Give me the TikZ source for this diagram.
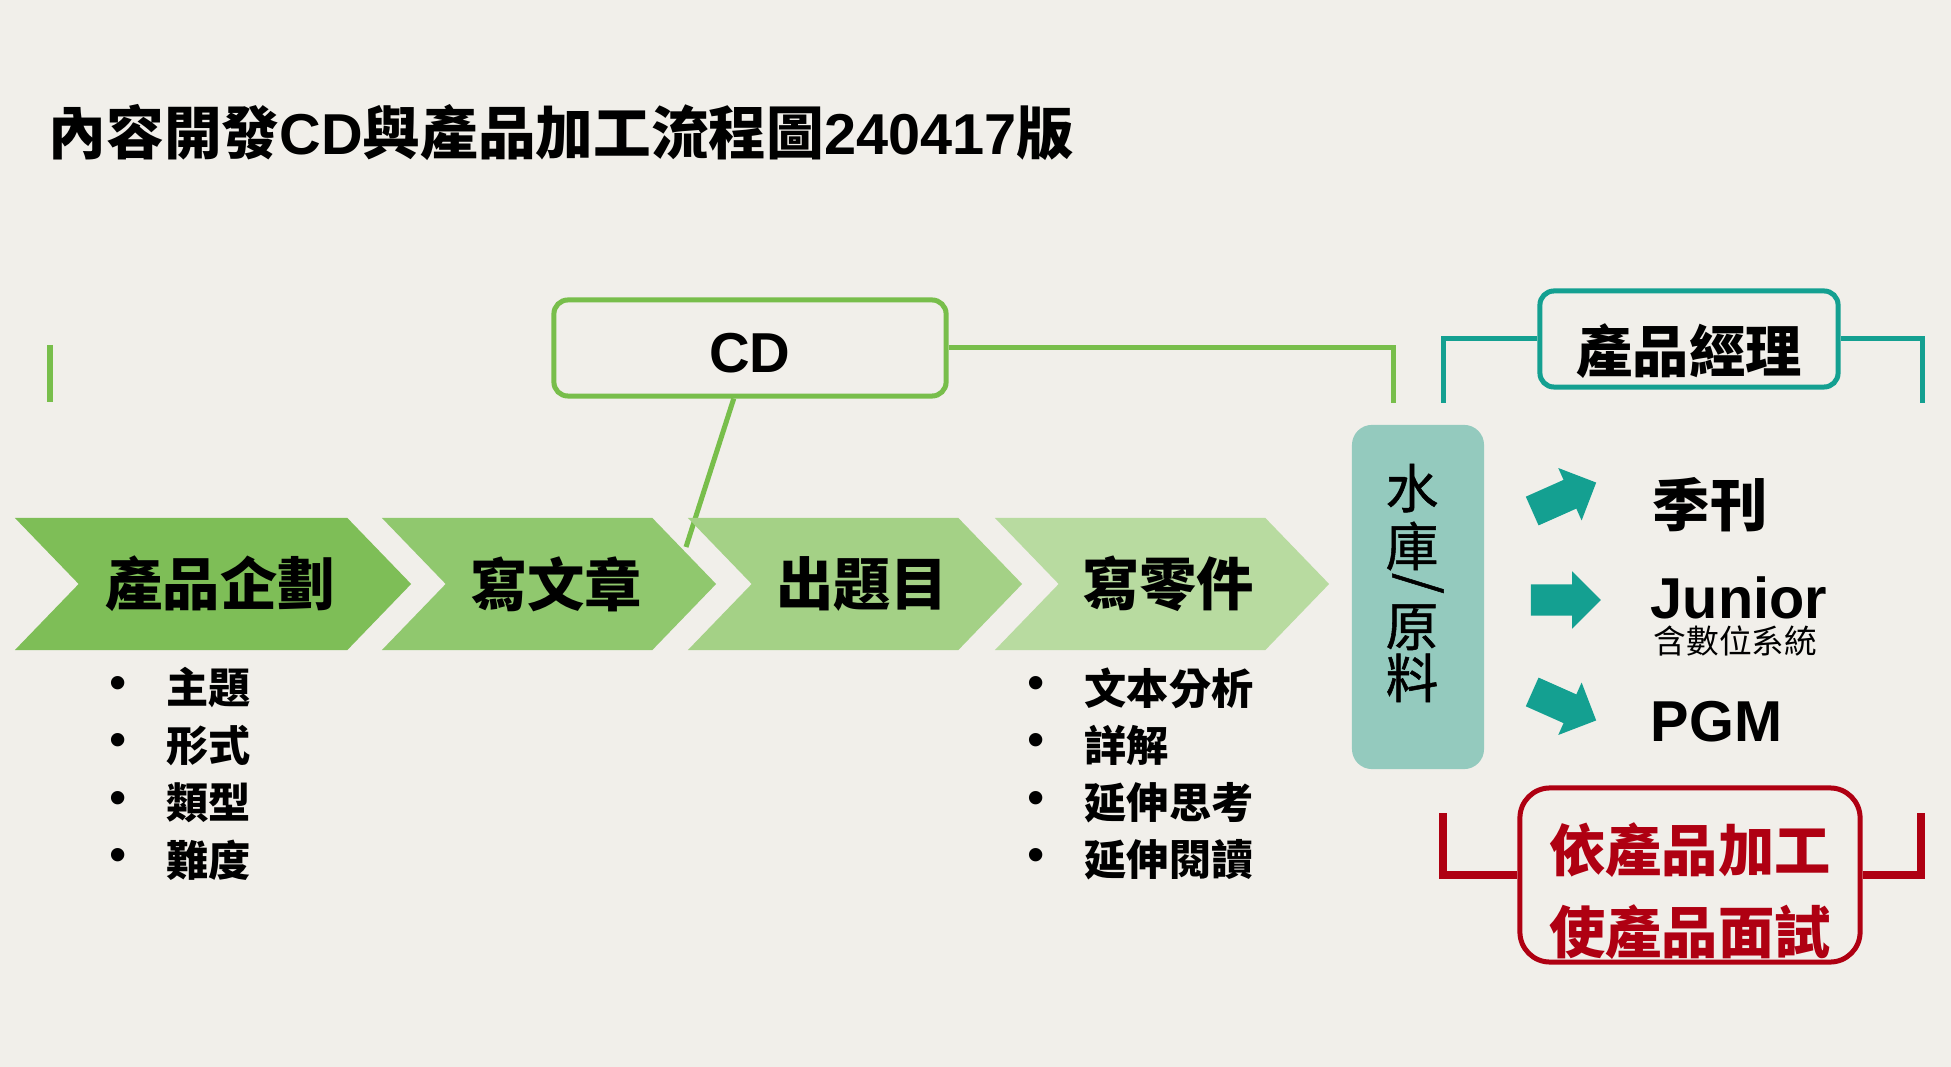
\documentclass[tikz,border=0pt]{standalone}
\usepackage{fontspec}
\setmainfont{Liberation Sans}
\newfontfamily\cjk{Noto Sans CJK TC}
\newfontfamily\cjkmid{Noto Sans CJK TC}[FakeBold=1]
\usetikzlibrary{positioning,shapes.symbols,shapes.arrows}

\definecolor{paper}{HTML}{F1EFEA}
\definecolor{cdgreen}{HTML}{78BE4B}
\definecolor{chevA}{HTML}{7EBE57}
\definecolor{chevB}{HTML}{90C86E}
\definecolor{chevC}{HTML}{A4D186}
\definecolor{chevD}{HTML}{B8DBA0}
\definecolor{pmteal}{HTML}{14A091}
\definecolor{pooltone}{HTML}{94CABE}
\definecolor{alertred}{HTML}{AF0012}

\tikzset{
  chev/.style={signal, signal from=west, signal to=east, signal pointer angle=92,
    minimum height=1.32cm, inner sep=0pt, fill=#1,
    font=\cjk\bfseries\fontsize{16.3}{19}\selectfont},
  tagbox/.style={draw=#1, line width=0.05cm, rounded corners=0.14cm,
    minimum width=2.98cm, minimum height=0.96cm, inner sep=0pt, text depth=0pt},
  dot/.style={font=\fontsize{14}{16}\selectfont, inner sep=0pt},
  item/.style={anchor=west, inner sep=0pt, font=\cjk\bfseries\fontsize{12}{14}\selectfont},
  fatarrow/.style={single arrow, fill=pmteal, minimum height=0.70cm, minimum width=0pt,
    single arrow head extend=0.13cm, inner sep=0pt},
  outlet/.style={anchor=west, inner sep=0pt, font=\bfseries\fontsize{16.4}{19}\selectfont}
}
\newcommand\shaft{\rule{0pt}{0.30cm}}
\newcommand\vslash{\raisebox{0pt}[0pt][0pt]{\rotatebox{-90}{/}}}

\begin{document}
\begin{tikzpicture}[x=0.01cm, y=-0.01cm]
  \fill[paper] (0,0) rectangle (1951,1067);

  \node[anchor=west, inner sep=0pt, font=\bfseries\fontsize{16.4}{19}\selectfont] (title) at (48,133)
    {{\cjk 內容開發}CD{\cjk 與產品加工流程圖}240417{\cjk 版}};

  % CD
  \coordinate (tickA) at (50,345);
  \coordinate (tickB) at (50,402);
  \draw[cdgreen, line width=0.06cm] (tickA) -- (tickB);
  \node[tagbox=cdgreen, minimum width=3.92cm, text height=0.49cm, font=\bfseries\fontsize{16}{19}\selectfont] (cd) at (750,348) {CD};
  \coordinate (cdend) at (1393,403);
  \coordinate (cdfoot) at (686,547);
  \draw[cdgreen, line width=0.05cm] (cd.east) -| (cdend);
  \draw[cdgreen, line width=0.05cm] (cd) -- (cdfoot);

  % steps
  \node[chev=chevA, minimum width=3.96cm] (plan) at (213,584) {\hspace{0.14cm}產品企劃};
  \node[chev=chevB, minimum width=3.34cm] (write) at (549,584) {\hspace{0.14cm}寫文章};
  \node[chev=chevC, minimum width=3.34cm] (quiz) at (855,584) {\hspace{0.14cm}出題目};
  \node[chev=chevD, minimum width=3.34cm] (parts) at (1162,584) {\hspace{0.12cm}寫零件};

  \foreach \t [count=\i] in {主題,形式,類型,難度} {
    \node[dot] (pa\i) at (118,{688+57.3*(\i-1)}) {•};
    \node[item] (ta\i) at (166,{688+57.3*(\i-1)}) {\t};
  }
  \foreach \t [count=\i] in {文本分析,詳解,延伸思考,延伸閱讀} {
    \node[dot] (pb\i) at (1036,{688+57.3*(\i-1)}) {•};
    \node[item] (tb\i) at (1084,{688+57.3*(\i-1)}) {\t};
  }

  % pool
  \node[fill=pooltone, rounded corners=0.2cm, minimum width=1.32cm, minimum height=3.44cm] (pool) at (1418,597) {};
  \node[align=center, inner sep=0pt, font=\cjkmid\fontsize{15}{16}\selectfont] (poolname) at (1412,583)
    {水\\[0.5pt]庫\\[-14pt]\hspace{0.12cm}\vslash\\[4.7pt]原\\[-1.2pt]料};

  % product manager
  \node[tagbox=pmteal, text height=0.66cm, font=\cjk\bfseries\fontsize{16}{19}\selectfont] (pm) at (1689,339) {產品經理};
  \coordinate (pmL) at (1443,403);
  \coordinate (pmR) at (1922,403);
  \draw[pmteal, line width=0.05cm] (pmL) |- (pm.west);
  \draw[pmteal, line width=0.05cm] (pm.east) -| (pmR);

  \node[fatarrow, rotate=24] (arr1) at (1557,500) {\shaft};
  \node[fatarrow] (arr2) at (1558,600) {\shaft};
  \node[fatarrow, rotate=-24] (arr3) at (1557,703) {\shaft};

  \node[outlet, font=\cjk\bfseries\fontsize{16.3}{19}\selectfont] (season) at (1652,505) {季刊};
  \node[outlet] (junior) at (1650,598) {Junior};
  \node[anchor=west, inner sep=0pt, font=\cjk\fontsize{9.3}{11}\selectfont] (digital) at (1653,641) {含數位系統};
  \node[outlet] (pgm) at (1650,722) {PGM};

  % red note
  \node[draw=alertred, line width=0.05cm, rounded corners=0.3cm, minimum width=3.40cm, minimum height=1.74cm] (note) at (1690,875) {};
  \node[align=center, text=alertred, inner sep=0pt, font=\cjk\bfseries\fontsize{16}{23.3}\selectfont] (notetext) at (1690,891)
    {依產品加工\\使產品面試};
  \coordinate (noteL) at (1443,813);
  \coordinate (noteR) at (1921,813);
  \draw[alertred, line width=0.08cm] (noteL) |- (note.west);
  \draw[alertred, line width=0.08cm] (note.east) -| (noteR);
\end{tikzpicture}
\end{document}
